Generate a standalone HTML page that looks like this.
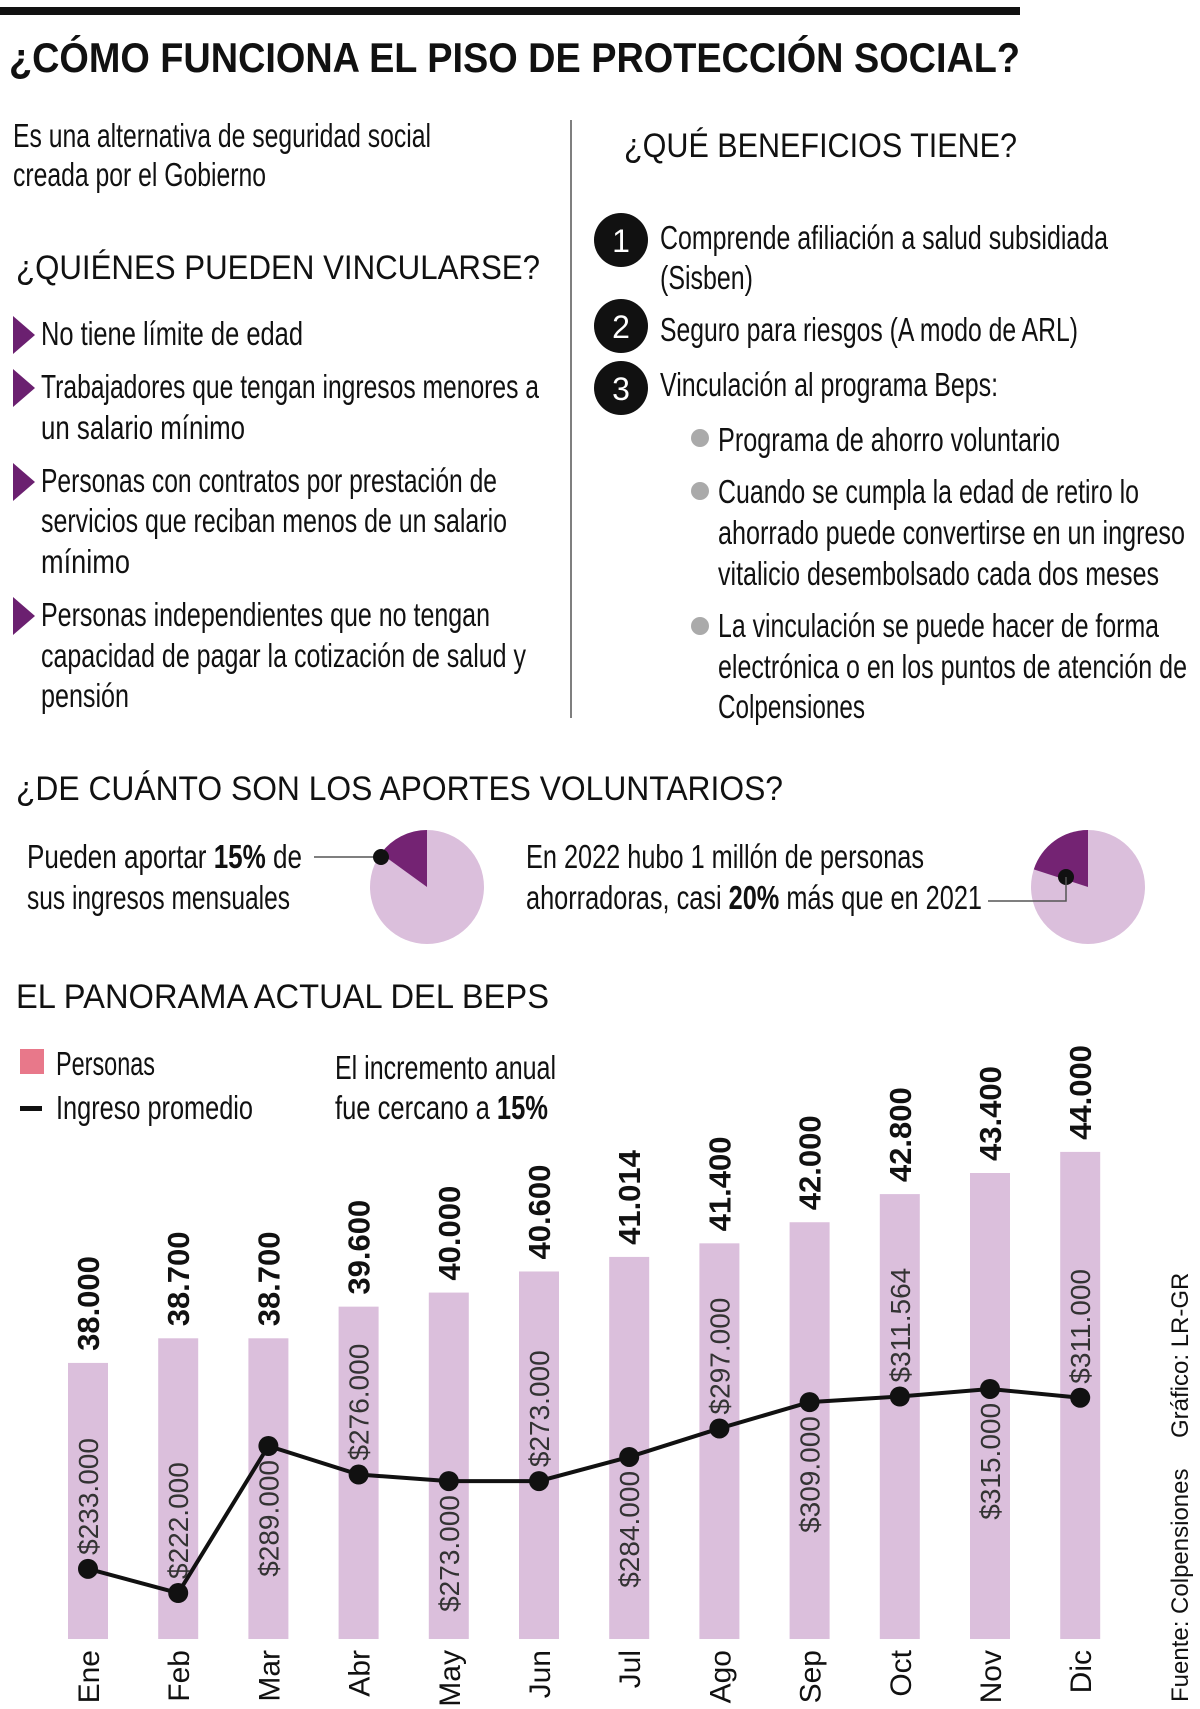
<!DOCTYPE html>
<html><head><meta charset="utf-8"><style>
html,body{margin:0;padding:0;background:#fff}
svg{display:block}
text{font-family:"Liberation Sans",sans-serif;fill:#111}
.b{font-size:33px}
.h{font-size:34px}
</style></head><body>
<svg id="svg" width="1200" height="1709" viewBox="0 0 1200 1709" xmlns="http://www.w3.org/2000/svg">
<rect x="0" y="7" width="1020" height="8" fill="#111"/>
<text x="9" y="72" font-size="42" font-weight="bold" textLength="1011" lengthAdjust="spacingAndGlyphs">¿CÓMO FUNCIONA EL PISO DE PROTECCIÓN SOCIAL?</text>

<g>
<text class="b" x="13" y="147" textLength="418" lengthAdjust="spacingAndGlyphs">Es una alternativa de seguridad social</text>
<text class="b" x="13" y="186" textLength="253" lengthAdjust="spacingAndGlyphs">creada por el Gobierno</text>
</g>
<text class="h" x="16" y="279" textLength="524" lengthAdjust="spacingAndGlyphs">¿QUIÉNES PUEDEN VINCULARSE?</text>
<g>
<polygon points="13,316 13,354 35,335" fill="#6b2070"/>
<polygon points="13,369 13,407 35,388" fill="#6b2070"/>
<polygon points="13,463 13,501 35,482" fill="#6b2070"/>
<polygon points="13,597 13,635 35,616" fill="#6b2070"/>
<text class="b" x="41" y="345" textLength="262" lengthAdjust="spacingAndGlyphs">No tiene límite de edad</text>
<text class="b" x="41" y="398" textLength="498" lengthAdjust="spacingAndGlyphs">Trabajadores que tengan ingresos menores a</text>
<text class="b" x="41" y="439" textLength="204" lengthAdjust="spacingAndGlyphs">un salario mínimo</text>
<text class="b" x="41" y="492" textLength="456" lengthAdjust="spacingAndGlyphs">Personas con contratos por prestación de</text>
<text class="b" x="41" y="532" textLength="466" lengthAdjust="spacingAndGlyphs">servicios que reciban menos de un salario</text>
<text class="b" x="41" y="573" textLength="89" lengthAdjust="spacingAndGlyphs">mínimo</text>
<text class="b" x="41" y="626" textLength="449" lengthAdjust="spacingAndGlyphs">Personas independientes que no tengan</text>
<text class="b" x="41" y="667" textLength="485" lengthAdjust="spacingAndGlyphs">capacidad de pagar la cotización de salud y</text>
<text class="b" x="41" y="707" textLength="88" lengthAdjust="spacingAndGlyphs">pensión</text>
</g>
<line x1="571" y1="120" x2="571" y2="718" stroke="#555" stroke-width="1.5"/>

<text class="h" x="624" y="157" textLength="393" lengthAdjust="spacingAndGlyphs">¿QUÉ BENEFICIOS TIENE?</text>
<g>
<circle cx="621" cy="240" r="27" fill="#111"/><text x="621" y="252" font-size="32" text-anchor="middle" style="fill:#fff">1</text>
<circle cx="621" cy="326" r="27" fill="#111"/><text x="621" y="338" font-size="32" text-anchor="middle" style="fill:#fff">2</text>
<circle cx="621" cy="388" r="27" fill="#111"/><text x="621" y="400" font-size="32" text-anchor="middle" style="fill:#fff">3</text>
<text class="b" x="660" y="249" textLength="448" lengthAdjust="spacingAndGlyphs">Comprende afiliación a salud subsidiada</text>
<text class="b" x="660" y="289" textLength="93" lengthAdjust="spacingAndGlyphs">(Sisben)</text>
<text class="b" x="660" y="341" textLength="418" lengthAdjust="spacingAndGlyphs">Seguro para riesgos (A modo de ARL)</text>
<text class="b" x="660" y="396" textLength="338" lengthAdjust="spacingAndGlyphs">Vinculación al programa Beps:</text>
<circle cx="700" cy="438" r="9" fill="#aaa"/>
<circle cx="700" cy="491" r="9" fill="#aaa"/>
<circle cx="700" cy="626" r="9" fill="#aaa"/>
<text class="b" x="718" y="451" textLength="342" lengthAdjust="spacingAndGlyphs">Programa de ahorro voluntario</text>
<text class="b" x="718" y="503" textLength="421" lengthAdjust="spacingAndGlyphs">Cuando se cumpla la edad de retiro lo</text>
<text class="b" x="718" y="544" textLength="467" lengthAdjust="spacingAndGlyphs">ahorrado puede convertirse en un ingreso</text>
<text class="b" x="718" y="585" textLength="441" lengthAdjust="spacingAndGlyphs">vitalicio desembolsado cada dos meses</text>
<text class="b" x="718" y="637" textLength="441" lengthAdjust="spacingAndGlyphs">La vinculación se puede hacer de forma</text>
<text class="b" x="718" y="678" textLength="469" lengthAdjust="spacingAndGlyphs">electrónica o en los puntos de atención de</text>
<text class="b" x="718" y="718" textLength="147" lengthAdjust="spacingAndGlyphs">Colpensiones</text>
</g>

<text class="h" x="16" y="800" textLength="767" lengthAdjust="spacingAndGlyphs">¿DE CUÁNTO SON LOS APORTES VOLUNTARIOS?</text>
<g>
<text class="b" x="27" y="868" textLength="275" lengthAdjust="spacingAndGlyphs">Pueden aportar <tspan font-weight="bold">15%</tspan> de</text>
<text class="b" x="27" y="909" textLength="263" lengthAdjust="spacingAndGlyphs">sus ingresos mensuales</text>
<line x1="314" y1="857" x2="380" y2="857" stroke="#555" stroke-width="1.5"/>
</g>
<g id="pie1"></g>
<g>
<text class="b" x="526" y="868" textLength="398" lengthAdjust="spacingAndGlyphs">En 2022 hubo 1 millón de personas</text>
<text class="b" x="526" y="909" textLength="456" lengthAdjust="spacingAndGlyphs">ahorradoras, casi <tspan font-weight="bold">20%</tspan> más que en 2021</text>
</g>
<g id="pie2"></g>
<polyline points="988,901 1066,901 1066,877" fill="none" stroke="#555" stroke-width="1.5"/>

<text class="h" x="16" y="1008" textLength="533" lengthAdjust="spacingAndGlyphs">EL PANORAMA ACTUAL DEL BEPS</text>
<g>
<rect x="20" y="1049" width="24" height="25" fill="#e8788a"/>
<text class="b" x="56" y="1075" textLength="99" lengthAdjust="spacingAndGlyphs">Personas</text>
<rect x="20" y="1106" width="22" height="5" fill="#111"/>
<text class="b" x="56" y="1119" textLength="197" lengthAdjust="spacingAndGlyphs">Ingreso promedio</text>
</g>
<g>
<text class="b" x="335" y="1079" textLength="221" lengthAdjust="spacingAndGlyphs">El incremento anual</text>
<text class="b" x="335" y="1119" textLength="213" lengthAdjust="spacingAndGlyphs">fue cercano a <tspan font-weight="bold">15%</tspan></text>
</g>
<g id="chart"></g>
<text transform="translate(1188,1438) rotate(-90)" font-size="24">Gráfico: LR-GR</text>
<text transform="translate(1188,1702) rotate(-90)" font-size="24">Fuente: Colpensiones</text>
</svg>
<script>
const months = ["Ene","Feb","Mar","Abr","May","Jun","Jul","Ago","Sep","Oct","Nov","Dic"];
const personas = [38000,38700,38700,39600,40000,40600,41014,41400,42000,42800,43400,44000];
const personasLabels = ["38.000","38.700","38.700","39.600","40.000","40.600","41.014","41.400","42.000","42.800","43.400","44.000"];
const ingreso = [233000,222000,289000,276000,273000,273000,284000,297000,309000,311564,315000,311000];
const ingresoLabels = ["$233.000","$222.000","$289.000","$276.000","$273.000","$273.000","$284.000","$297.000","$309.000","$311.564","$315.000","$311.000"];
const pieShares = [15,20];

const NS="http://www.w3.org/2000/svg";
function mk(tag,attrs,parent){const e=document.createElementNS(NS,tag);for(const k in attrs)e.setAttribute(k,attrs[k]);parent.appendChild(e);return e;}

function drawPie(id,cx,cy,r,pct,dot){
  const g=document.getElementById(id);
  const c=mk('circle',{cx:cx,cy:cy,r:r,fill:'#dbbfdc'},g);
  
  
  const a=-Math.PI/2-pct/100*2*Math.PI;
  const x=cx+r*Math.cos(a), y=cy+r*Math.sin(a);
  const p=mk('path',{d:`M${cx},${cy} L${cx},${cy-r} A${r},${r} 0 ${pct>50?1:0} 0 ${x},${y} Z`,fill:'#742373'},g);
  
  
  const d=mk('circle',{cx:dot[0],cy:dot[1],r:8,fill:'#111'},g);
  
  
}
drawPie('pie1',427,887,57,pieShares[0],[381,857]);
drawPie('pie2',1088,887,57,pieShares[1],[1066,877]);

const chart=document.getElementById('chart');
const x0=88, step=90.2, bw=40, base=1639;
const xPos=i=>x0+i*step;
const yBar=v=>base-(v-30150)*0.03517;
const yLine=v=>1593-(v-222000)*0.002194;

months.forEach((m,i)=>{
  const x=xPos(i), top=yBar(personas[i]);
  const r=mk('rect',{x:x-bw/2,y:top,width:bw,height:base-top,fill:'#dbbfdc'},chart);
  
  
  const t=mk('text',{transform:`translate(${x+11},${top-12}) rotate(-90)`,'font-size':31,'font-weight':'bold'},chart);
  t.textContent=personasLabels[i];
  
  
  const ml=mk('text',{transform:`translate(${x+11},1650) rotate(-90)`,'font-size':30,'text-anchor':'end'},chart);
  ml.textContent=m;
  
  
});
const pts=ingreso.map((v,i)=>xPos(i)+','+yLine(v)).join(' ');
const pl=mk('polyline',{points:pts,fill:'none',stroke:'#111','stroke-width':4},chart);


ingreso.forEach((v,i)=>{
  const x=xPos(i), y=yLine(v);
  const c=mk('circle',{cx:x,cy:y,r:10,fill:'#111'},chart);
  
  
  const above=[0,1,3,5,7,9,11].includes(i);
  const t=mk('text',{'font-size':28,'text-anchor':above?'start':'end',style:'fill:#333',
    transform:`translate(${x+10},${above?y-14:y+14}) rotate(-90)`},chart);
  t.textContent=ingresoLabels[i];
  
  
});
</script>
</body></html>
